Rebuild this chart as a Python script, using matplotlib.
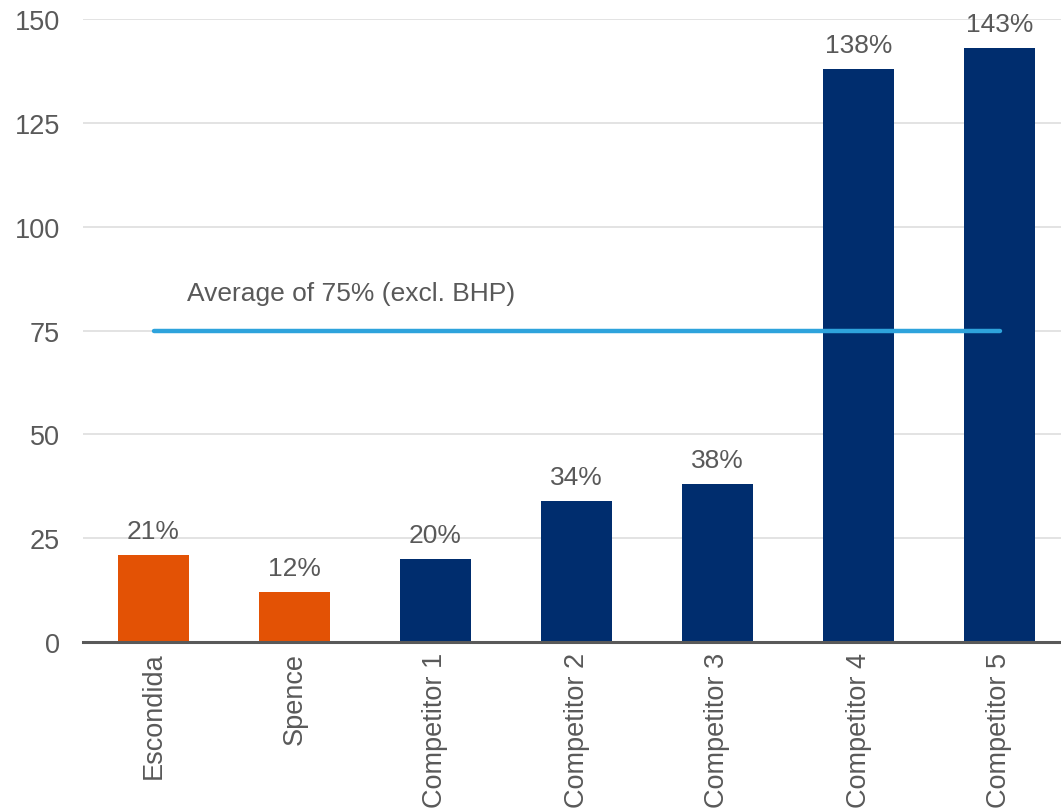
import numpy as np
import matplotlib.pyplot as plt

plt.rcParams['font.family'] = ['Liberation Sans', 'DejaVu Sans']

categories = ['Escondida', 'Spence', 'Competitor 1', 'Competitor 2',
              'Competitor 3', 'Competitor 4', 'Competitor 5']
values = [21, 12, 20, 34, 38, 138, 143]
is_bhp = [True, True, False, False, False, False, False]
average = 75
avg_label = 'Average of 75% (excl. BHP)'
yticks = [0, 25, 50, 75, 100, 125, 150]

orange = '#E35205'
navy = '#002D6E'
blue = '#2EA3DC'
txt = '#595959'

fig = plt.figure(figsize=(10.61, 8.12), dpi=100)
ax = fig.add_axes([83 / 1061, 169 / 812, 987 / 1061, 623 / 812])

x = np.arange(len(categories))
colors = [orange if b else navy for b in is_bhp]
bars = ax.bar(x, values, width=0.5, color=colors, zorder=2)

for xi, v in zip(x, values):
    ax.annotate(f'{v}%', (xi, v), xytext=(0, 8.5), textcoords='offset points',
                ha='center', va='bottom', fontsize=19, color=txt)

ax.plot([x[0], x[-1]], [average, average], color=blue, lw=3.2,
        solid_capstyle='round', zorder=3)
ax.text(0.24, 82.3, avg_label, ha='left', va='baseline', fontsize=19, color=txt)

ax.set_xlim(-0.5, len(categories) - 0.5)
ax.set_ylim(0, 150)
ax.set_yticks(yticks)
ax.set_xticks(x)
ax.set_xticklabels(categories, rotation=90, fontsize=19.5, color=txt)
ax.tick_params(axis='y', labelsize=19.5, labelcolor=txt, length=0, pad=16.5)
ax.tick_params(axis='x', length=0, pad=7)
ax.grid(axis='y', color='#e0e0e0', lw=1.3, zorder=0)
ax.set_axisbelow(True)
for s in ['top', 'right', 'left']:
    ax.spines[s].set_visible(False)
ax.spines['bottom'].set_color(txt)
ax.spines['bottom'].set_linewidth(2.2)
ax.spines['bottom'].set_zorder(4)

fig.savefig('out.png', dpi=100)
